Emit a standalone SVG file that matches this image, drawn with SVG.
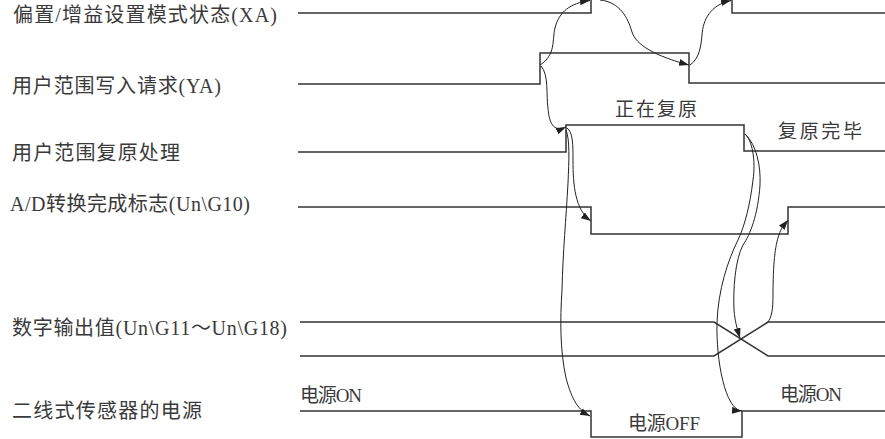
<svg xmlns="http://www.w3.org/2000/svg" width="885" height="439" viewBox="0 0 885 439">
<style>
  .sig { fill: none; stroke: #333; stroke-width: 1.5; }
  .lbl { font-family: "Liberation Serif", "Noto Sans CJK SC", serif; font-size: 20px; fill: #3a3a3a; }
  .st { font-family: "Liberation Serif", "Noto Sans CJK SC", serif; font-size: 19px; fill: #3a3a3a; }
  .arr { fill: none; stroke: #222; stroke-width: 1; marker-end: url(#ah); }
</style>
<defs>
  <marker id="ah" markerUnits="userSpaceOnUse" markerWidth="11" markerHeight="8" refX="10" refY="3.5" orient="auto">
    <path d="M0,0 L10,3.5 L0,7 z" fill="#222"/>
  </marker>
</defs>
<rect x="0" y="0" width="885" height="439" fill="#fff"/>

<g id="xa">
  <text class="lbl" x="13" y="22" textLength="264">偏置/增益设置模式状态(XA)</text>
  <polyline class="sig" points="298,13 591,13 591,-2 732,-2 732,13 885,13"/>
</g>
<g id="ya">
  <text class="lbl" x="12" y="93" textLength="209">用户范围写入请求(YA)</text>
  <polyline class="sig" points="298,84 540,84 540,53 689,53 689,83 885,83"/>
</g>
<g id="restore">
  <text class="lbl" x="12" y="160" textLength="168">用户范围复原处理</text>
  <polyline class="sig" points="298,152 566,152 566,125 744,125 744,151 885,151"/>
  <text class="st" x="615" y="116" textLength="82">正在复原</text>
  <text class="st" x="778" y="138" textLength="84">复原完毕</text>
</g>
<g id="ad-flag">
  <text class="lbl" x="10" y="211" textLength="240">A/D转换完成标志(Un\G10)</text>
  <polyline class="sig" points="298,207 591,207 591,234 788,234 788,207 885,207"/>
</g>
<g id="digital">
  <text class="lbl" x="12" y="335" textLength="275">数字输出值(Un\G11～Un\G18)</text>
  <polyline class="sig" points="300,322 714,322 768,356 885,356"/>
  <polyline class="sig" points="300,356 714,356 768,322 885,322"/>
</g>
<g id="power">
  <text class="lbl" x="12" y="418" textLength="190">二线式传感器的电源</text>
  <polyline class="sig" points="300,411 591,411 591,437 742,437 742,411 885,411"/>
  <text class="st" x="300" y="402" textLength="62">电源ON</text>
  <text class="st" x="628" y="430" textLength="72">电源OFF</text>
  <text class="st" x="780" y="401" textLength="62">电源ON</text>
</g>

<g id="connectors">
  <path class="arr" d="M540,65 C556,55 552,40 555,28 C559,12 570,3 590,0.5"/>
  <path class="arr" d="M541,66 C549,75 546,95 548,108 C549,122 553,133 566,127"/>
  <path class="arr" d="M600,0 C620,2 628,18 632,32 C636,45 655,56 689,65"/>
  <path class="arr" d="M690,65 C700,58 701,45 702,35 C703,20 710,5 731,0.5"/>
  <path class="arr" d="M567,128 C573,132 573,145 573,160 C573,185 575,210 591,221"/>
  <path class="arr" d="M566,130 C570,140 569,160 568,183 C566,220 563,250 562,290 C560,320 560,350 566,378 C572,400 578,410 590,416"/>
  <path class="arr" d="M746,135 C756,145 761,165 760,185 C758,215 750,235 743,245 C735,260 733,290 734,310 C735,322 737,328 740,338"/>
  <path class="arr" d="M745,134 C752,140 756,160 753,180 C750,205 745,225 738,240 C728,260 718,290 717,323 C716,360 725,410 742,411"/>
  <path class="arr" d="M767,323 C772,318 773,308 773,295 C773,265 775,245 779,235 C781,228 784,225 788,220"/>
</g>
</svg>
